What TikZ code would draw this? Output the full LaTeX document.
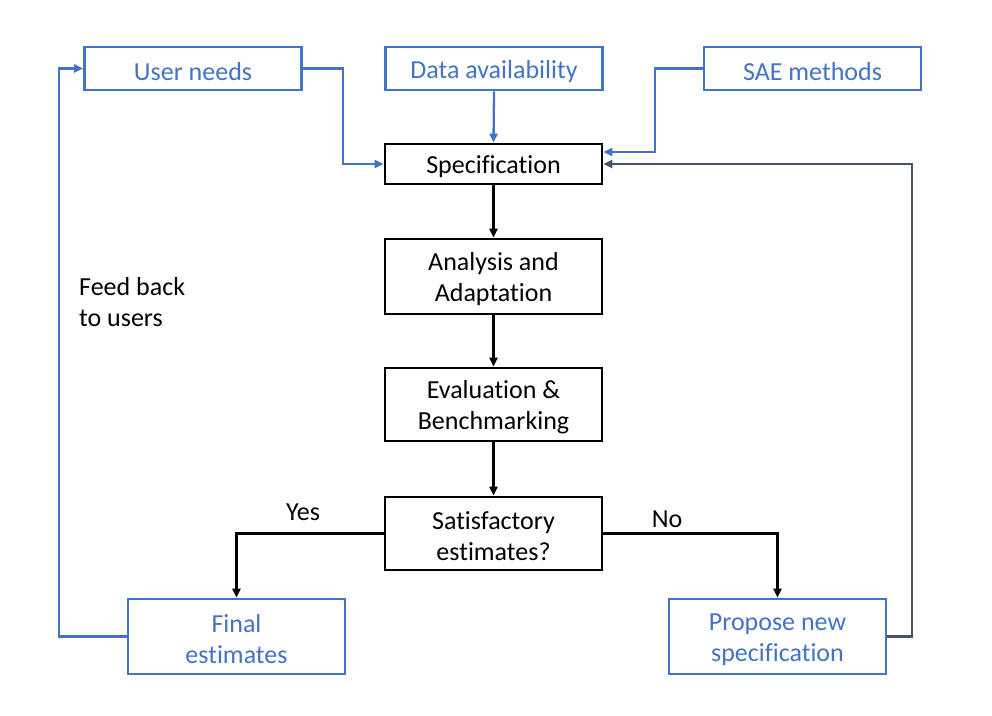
\documentclass[tikz,border=0pt]{standalone}
\usepackage{fontspec}
\setmainfont{Carlito}[Ligatures=CommonOff]
\usetikzlibrary{arrows.meta}
\definecolor{cblue}{HTML}{4472C4}
\definecolor{cslate}{HTML}{44546A}
\begin{document}
\begin{tikzpicture}[x=1pt,y=-1pt,
  box/.style={draw=black,line width=2.8pt,minimum width=217pt,inner sep=0pt},
  bbox/.style={box,draw=cblue},
  txt/.style={label={[font=\fontsize{26}{31}\selectfont,align=center,yshift=-3pt,inner sep=0pt]center:#1}},
  btxt/.style={label={[font=\fontsize{26}{31}\selectfont,align=center,yshift=-3pt,inner sep=0pt,text=cblue]center:#1}},
  conn/.style={line width=2.3pt,-{Triangle[length=9pt,width=8pt]}},
  bconn/.style={conn,draw=cblue},
  sconn/.style={conn,draw=cslate,line width=2.8pt},
  lab/.style={font=\fontsize{26}{31}\selectfont,align=left}]
\useasboundingbox (0,0) rectangle (992,715);
\node[bbox,minimum height=43pt,btxt={User needs}] (user) at (193,68.5) {};
\node[bbox,minimum height=43pt,btxt={Data availability}] (data) at (494,68.5) {};
\node[bbox,minimum height=43pt,btxt={SAE methods}] (sae) at (812.5,68.5) {};
\node[box,minimum height=40pt,txt={Specification}] (spec) at (493.5,164) {};
\node[box,minimum height=75pt,txt={Analysis and\\Adaptation}] (ana) at (493.5,276.5) {};
\node[box,minimum height=73pt,txt={Evaluation \&\\Benchmarking}] (eval) at (493.5,404.5) {};
\node[box,minimum height=73pt,txt={Satisfactory\\estimates?}] (sat) at (493.5,533.5) {};
\node[bbox,minimum height=75pt,btxt={Final\\estimates}] (fin) at (236.5,636.5) {};
\node[bbox,minimum height=75pt,btxt={Propose new\\specification}] (prop) at (777.5,636.5) {};
\coordinate (specsae) at (spec.east |- 0,152);
\draw[bconn] (user.east) -- (343,68.5) |- (spec.west);
\draw[bconn] (data.south) -- (spec.north);
\draw[bconn] (sae.west) -- (655,68.5) |- (specsae);
\draw[sconn] (prop.east) -- (912,636.5) |- (spec.east);
\draw[bconn] (fin.west) -- (59,636.5) |- (user.west);
\draw[conn] (spec) -- (ana);
\draw[conn] (ana) -- (eval);
\draw[conn] (eval) -- (sat);
\draw[conn] (sat.west) -| (fin.north);
\draw[conn] (sat.east) -| (prop.north);
\node[lab,anchor=center] (yes) at (303,512) {Yes};
\node[lab,anchor=center] (no) at (667,519) {No};
\node[lab,anchor=north west,inner sep=0pt] (fb) at (79,277) {Feed back\\to users};
\end{tikzpicture}
\end{document}
